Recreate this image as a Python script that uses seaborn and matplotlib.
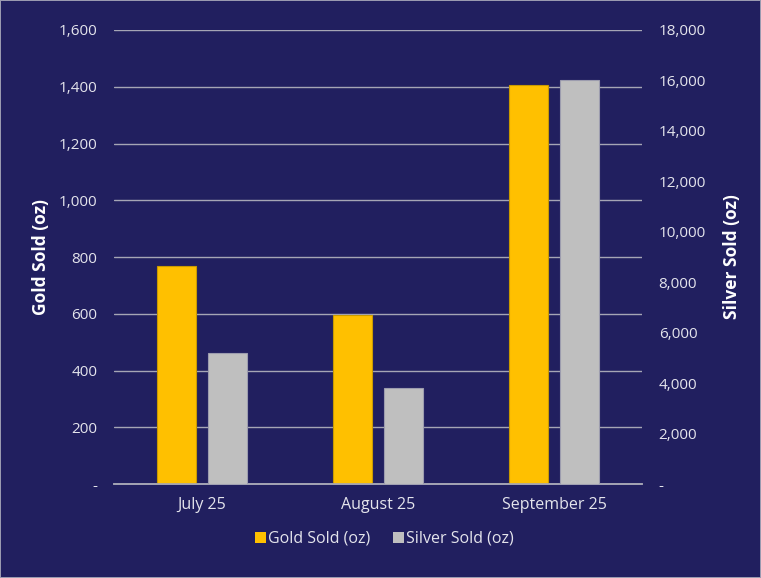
import matplotlib
matplotlib.use("Agg")
import matplotlib.pyplot as plt
from matplotlib.ticker import FuncFormatter, MultipleLocator
from matplotlib.patches import Patch
import seaborn as sns
import pandas as pd

months = ["July 25", "August 25", "September 25"]
gold_oz = [770, 595, 1405]
silver_oz = [5200, 3800, 16000]
series = ["Gold Sold (oz)", "Silver Sold (oz)"]
colors = {"Gold Sold (oz)": "#FFC000", "Silver Sold (oz)": "#BFBFBF"}

BG = "#211F5F"
TXT = "#E4E4EC"
GRID = "#A5A5B5"

gold_df = pd.DataFrame({"month": months, "value": gold_oz, "series": series[0]})
silver_df = pd.DataFrame({"month": months, "value": silver_oz, "series": series[1]})

sns.set_theme(style="white")
plt.rcParams["font.family"] = ["Open Sans", "DejaVu Sans"]

fig = plt.figure(figsize=(7.61, 5.78), dpi=100, facecolor=BG,
                 edgecolor="#9A9AB0", linewidth=1.2)
ax = fig.add_axes([0.1498, 0.1626, 0.6938, 0.7855])
ax.set_facecolor(BG)
ax2 = ax.twinx()

common = dict(x="month", y="value", hue="series", hue_order=series,
              palette=colors, width=0.57, gap=0.22, dodge=True,
              order=months, legend=False, linewidth=0.8, saturation=1)
sns.barplot(data=gold_df, ax=ax, edgecolor="#C99A00", zorder=3, **common)
sns.barplot(data=silver_df, ax=ax2, edgecolor="#9C9CAE", zorder=3, **common)

ax.set_xlim(-0.5, 2.5)
ax.set_ylim(0, 1600)
ax2.set_ylim(0, 18000)
ax.yaxis.set_major_locator(MultipleLocator(200))
ax2.yaxis.set_major_locator(MultipleLocator(2000))

fmt = FuncFormatter(lambda v, p: "-" if v == 0 else f"{v:,.0f}")
ax.yaxis.set_major_formatter(fmt)
ax2.yaxis.set_major_formatter(fmt)

ax.grid(axis="y", color=GRID, linewidth=1.0, zorder=0)
ax.set_axisbelow(True)

for a in (ax, ax2):
    for s in ("top", "left", "right"):
        a.spines[s].set_visible(False)
    a.spines["bottom"].set_color(GRID)
    a.spines["bottom"].set_linewidth(1.2)
    a.tick_params(length=0, colors=TXT, labelsize=11)

ax.tick_params(axis="y", pad=12)
ax2.tick_params(axis="y", pad=12)
ax.tick_params(axis="x", pad=9, labelsize=11.5)
ax.set_xlabel("")
ax2.set_xlabel("")

ax.set_ylabel("Gold Sold (oz)", color="white", fontsize=12.5,
              fontweight="bold", labelpad=6)
ax2.set_ylabel("Silver Sold (oz)", color="white", fontsize=12.5,
               fontweight="bold", labelpad=12, rotation=90)

handles = [Patch(facecolor=colors[s], edgecolor="none") for s in series]
fig.legend(handles, series, loc="center", bbox_to_anchor=(0.505, 0.068),
           ncol=2, frameon=False, fontsize=11.5, labelcolor=TXT,
           handlelength=0.7, handleheight=0.7, handletextpad=0.15,
           columnspacing=1.4)

fig.savefig("out.png", dpi=100, facecolor=BG, edgecolor="#9A9AB0")
